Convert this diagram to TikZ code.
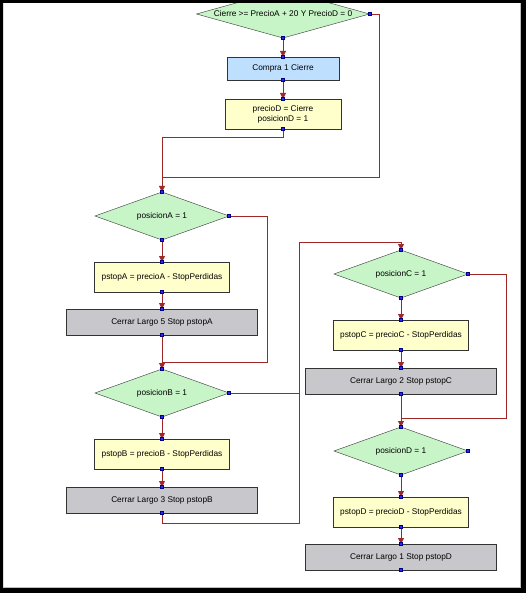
\documentclass[tikz,border=0pt]{standalone}
\usepackage{fontspec}
\setmainfont{Liberation Sans}
\usetikzlibrary{positioning,calc,shapes.geometric,arrows.meta}
\definecolor{condgreen}{RGB}{200,245,200}
\definecolor{setyellow}{RGB}{255,255,204}
\definecolor{buyblue}{RGB}{191,223,255}
\definecolor{ordergray}{RGB}{200,200,204}
\definecolor{wirered}{RGB}{158,40,40}
\definecolor{portblue}{RGB}{40,40,255}

\begin{document}
\begin{tikzpicture}[x=1pt,y=-1pt,
	every node/.style={font=\fontsize{8.3}{10}\selectfont,inner sep=0pt,outer sep=0pt,align=center},
	cond/.style={diamond,draw=black!80,fill=condgreen,minimum width=134pt,minimum height=48pt,aspect=3},
	setbox/.style={rectangle,draw=black!80,fill=setyellow,minimum width=135pt,minimum height=30pt},
	buybox/.style={rectangle,draw=black!80,fill=buyblue,minimum width=112pt,minimum height=23pt},
	orderbox/.style={rectangle,draw=black!80,fill=ordergray,minimum width=191pt,minimum height=26pt},
	wire/.style={draw=wirered,line width=0.8pt},
	flow/.style={wire,-{Triangle[width=6pt,length=6pt]}},
	port/.style={rectangle,draw=blue!50!black,fill=portblue,minimum size=2.8pt,line width=0.3pt}]
	\useasboundingbox (0,0) rectangle (526,593);
	%
	\node[cond,minimum width=173pt,inner xsep=-40pt] (cond) at (283,14) {Cierre >= PrecioA + 20 Y PrecioD = 0};
	\node[buybox,below=19pt of cond] (compra) {Compra 1 Cierre};
	\node[setbox,minimum width=116pt,below=19pt of compra] (precioD) {precioD = Cierre\\posicionD = 1};
	%
	\node[cond] (posA) at (162,216) {posicionA = 1};
	\node[setbox,below=22pt of posA] (pstopA) {pstopA = precioA - StopPerdidas};
	\node[orderbox,below=17pt of pstopA] (cerrar5) {Cerrar Largo 5 Stop pstopA};
	\node[cond] (posB) at (162,393) {posicionB = 1};
	\node[setbox,below=22pt of posB] (pstopB) {pstopB = precioB - StopPerdidas};
	\node[orderbox,below=18pt of pstopB] (cerrar3) {Cerrar Largo 3 Stop pstopB};
	%
	\node[cond] (posC) at (401,274) {posicionC = 1};
	\node[setbox,below=22pt of posC] (pstopC) {pstopC = precioC - StopPerdidas};
	\node[orderbox,below=18pt of pstopC] (cerrar2) {Cerrar Largo 2 Stop pstopC};
	\node[cond] (posD) at (401,451) {posicionD = 1};
	\node[setbox,below=22pt of posD] (pstopD) {pstopD = precioD - StopPerdidas};
	\node[orderbox,below=17pt of pstopD] (cerrar1) {Cerrar Largo 1 Stop pstopD};
	%
	\coordinate (joinA) at (162,177);
	\coordinate (joinB) at (162,362);
	\coordinate (bendC) at (299,242);
	\coordinate (joinD) at (401,418);
	%
	\draw[flow] (cond.south) -- (compra.north);
	\draw[flow] (compra.south) -- (precioD.north);
	\draw[flow] (precioD.south) -- ++(0,8) -| (posA.north);
	\draw[wire] (cond.east) -- ++(10,0) |- (joinA);
	\draw[flow] (posA.south) -- (pstopA.north);
	\draw[flow] (pstopA.south) -- (cerrar5.north);
	\draw[flow] (cerrar5.south) -- (posB.north);
	\draw[wire] (posA.east) -- ++(38,0) |- (joinB);
	\draw[flow] (posB.south) -- (pstopB.north);
	\draw[flow] (pstopB.south) -- (cerrar3.north);
	\draw[flow] (cerrar3.south) -- ++(0,10) -| (bendC) -| (posC.north);
	\draw[wire] (posB.east) -- (posB.east -| bendC);
	\draw[flow] (posC.south) -- (pstopC.north);
	\draw[flow] (pstopC.south) -- (cerrar2.north);
	\draw[flow] (cerrar2.south) -- (posD.north);
	\draw[wire] (posC.east) -- ++(38,0) |- (joinD);
	\draw[flow] (posD.south) -- (pstopD.north);
	\draw[flow] (pstopD.south) -- (cerrar1.north);
	%
	\foreach \n in {cond,posA,posB,posC,posD}
		\node[port] at (\n.east) {};
	\foreach \n in {compra,precioD,posA,pstopA,cerrar5,posB,pstopB,cerrar3,posC,pstopC,cerrar2,posD,pstopD,cerrar1}
		{\node[port] at (\n.north) {}; \node[port] at (\n.south) {};}
	\node[port] at (cond.south) {};
	%
	\fill[black,even odd rule] (0,0) rectangle (526,593) (3,3) rectangle (521,588);
	\draw[black!25,line width=0.8pt] (520.5,3) -- (520.5,587.5) -- (3,587.5);
\end{tikzpicture}
\end{document}
